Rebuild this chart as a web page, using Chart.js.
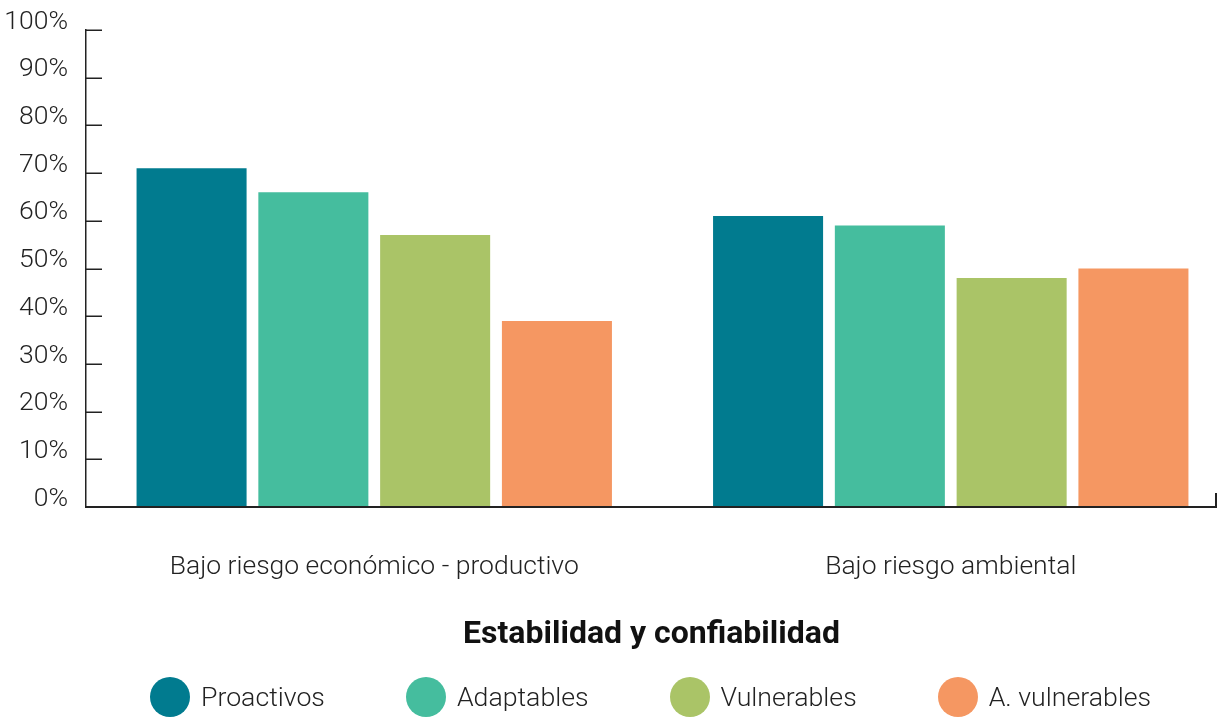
<!DOCTYPE html>
<html>
<head>
<meta charset="utf-8">
<script src="https://cdn.jsdelivr.net/npm/chart.js@4/dist/chart.umd.min.js"></script>
<style>
  html, body { margin: 0; padding: 0; background: #fff; overflow: hidden; }
  #wrap { position: relative; width: 1222px; height: 717px; overflow: hidden; }
  #chart { position: absolute; left: 0; top: 0; }
  #title { position: absolute; left: 87px; width: 1129px; top: 613px; line-height: 32px;
           text-align: center; font: 700 32px Roboto, sans-serif; color: #111; }
  #legend { position: absolute; left: 150px; top: 677px; height: 40px; display: flex; align-items: center; }
  .item { display: flex; align-items: center; margin-right: 81px; }
  .dot { width: 40px; height: 40px; border-radius: 50%; margin-right: 11px; }
  .item span { font: 300 26.7px Roboto, sans-serif; color: #222; white-space: nowrap; }
</style>
</head>
<body>
<div id="wrap">
  <canvas id="chart" width="1239" height="717"></canvas>
  <div id="title">Estabilidad y confiabilidad</div>
  <div id="legend"></div>
</div>
<script>
// Categories and series (percent of producers)
const categories = ['Bajo riesgo económico - productivo', 'Bajo riesgo ambiental'];
const seriesNames = ['Proactivos', 'Adaptables', 'Vulnerables', 'A. vulnerables'];
const proactivos = [71, 61];
const adaptables = [66, 59];
const vulnerables = [57, 48];
const aVulnerables = [39, 50];
const yTickValues = [0, 10, 20, 30, 40, 50, 60, 70, 80, 90, 100];

const seriesColors = ['#017b8f', '#45bd9e', '#aac467', '#f59762'];
const seriesValues = [proactivos, adaptables, vulnerables, aVulnerables];

const datasets = seriesNames.map((name, i) => ({
  label: name,
  data: seriesValues[i],
  backgroundColor: seriesColors[i],
  borderWidth: 0,
  categoryPercentage: 0.845,
  barPercentage: 0.9035
}));

// Inward tick marks on the value axis and a baseline closed by a short upright tick
const axisMarks = {
  id: 'axisMarks',
  afterDatasetsDraw(chart) {
    const { ctx, chartArea, scales: { y } } = chart;
    ctx.save();
    ctx.strokeStyle = '#222';
    ctx.lineWidth = 1.5;
    y.ticks.forEach(t => {
      const py = Math.round(y.getPixelForValue(t.value)) + 0.25;
      ctx.beginPath();
      ctx.moveTo(chartArea.left, py);
      ctx.lineTo(chartArea.left + 16, py);
      ctx.stroke();
    });
    const base = y.getPixelForValue(0);
    const end = chartArea.left + 1130;
    ctx.lineWidth = 2;
    ctx.beginPath();
    ctx.moveTo(chartArea.left - 0.75, base);
    ctx.lineTo(end, base);
    ctx.lineTo(end, base - 14);
    ctx.stroke();
    ctx.restore();
  }
};

const tickFont = { family: 'Roboto', size: 26.5, weight: '300' };

new Chart(document.getElementById('chart'), {
  type: 'bar',
  data: { labels: categories, datasets },
  plugins: [axisMarks],
  options: {
    responsive: false,
    animation: false,
    layout: { padding: { top: 30, left: 0, right: 0, bottom: 0 } },
    plugins: { legend: { display: false }, tooltip: { enabled: false } },
    scales: {
      x: {
        grid: { display: false, drawTicks: false },
        border: { display: false },
        ticks: { color: '#222', font: tickFont, padding: 44, maxRotation: 0, autoSkip: false },
        afterFit(s) { s.height = 210; s.paddingLeft = 0; s.paddingRight = 0; }
      },
      y: {
        min: 0,
        max: 100,
        afterBuildTicks(s) { s.ticks = yTickValues.map(v => ({ value: v })); },
        ticks: {
          color: '#222',
          font: tickFont,
          padding: 18,
          labelOffset: -8,
          callback: v => v + '%'
        },
        grid: { display: false, drawTicks: false },
        border: { display: true, color: '#222', width: 1.5 },
        afterFit(s) { s.width = 86; s.paddingTop = 0; s.paddingBottom = 0; }
      }
    }
  }
});

// Legend built from the same series names and colours
const legend = document.getElementById('legend');
seriesNames.forEach((name, i) => {
  const item = document.createElement('div');
  item.className = 'item';
  const dot = document.createElement('div');
  dot.className = 'dot';
  dot.style.background = seriesColors[i];
  const label = document.createElement('span');
  label.textContent = name;
  item.appendChild(dot);
  item.appendChild(label);
  legend.appendChild(item);
});
</script>
</body>
</html>
